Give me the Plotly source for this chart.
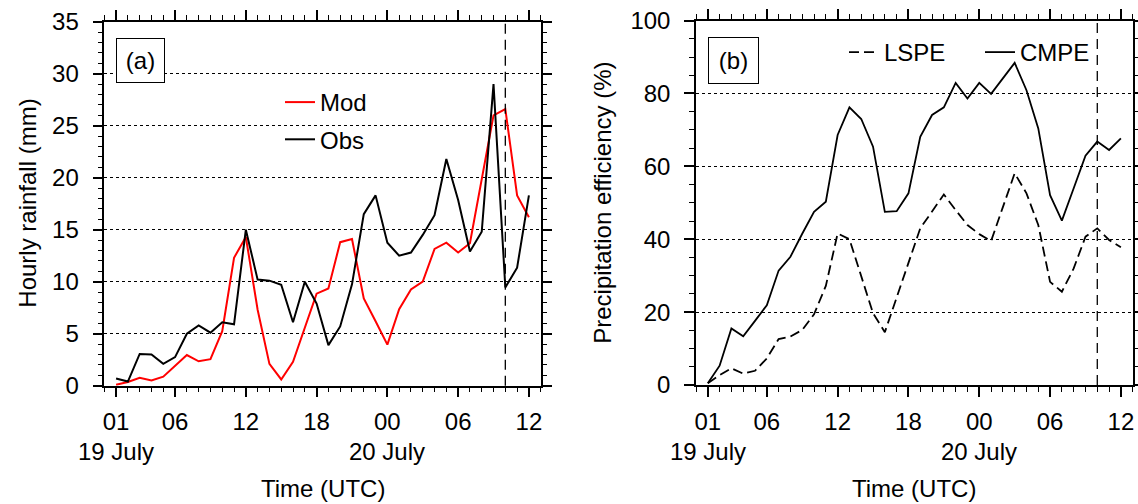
import plotly.graph_objects as go

# ---------------- data ----------------
# hours since 01 UTC 19 July (0..35 -> 01 UTC 19 July .. 12 UTC 20 July)
hours = list(range(36))
tick_hours = [0, 5, 11, 17, 23, 29, 35]
tick_labels = ["01", "06", "12", "18", "00", "06", "12"]
date_hours = [0, 23]
date_labels = ["19 July", "20 July"]
marker_hour = 33  # 10 UTC 20 July

mod_rain = [0.1, 0.35, 0.77, 0.5, 0.87, 1.95, 2.95, 2.35, 2.55, 5.25,
            12.3, 14.3, 7.3, 2.1, 0.6, 2.3, 5.6, 8.85, 9.35, 13.8,
            14.1, 8.4, 6.2, 3.95, 7.35, 9.25, 10.0, 13.15, 13.75, 12.8,
            13.7, 19.9, 26.0, 26.6, 18.3, 16.2]
obs_rain = [0.7, 0.4, 3.05, 3.0, 2.1, 2.75, 5.0, 5.8, 5.1, 6.1,
            5.9, 15.0, 10.2, 10.1, 9.7, 6.1, 10.0, 7.9, 3.9, 5.7,
            9.75, 16.5, 18.3, 13.75, 12.5, 12.8, 14.5, 16.4, 21.8, 17.85,
            12.9, 14.8, 29.0, 9.45, 11.35, 18.3]

lspe = [0.5, 2.7, 4.6, 3.1, 3.9, 7.3, 12.6, 13.3, 15.1, 19.4,
        27.2, 41.6, 40.0, 29.7, 19.7, 14.5, 24.0, 33.5, 43.0, 47.6,
        52.3, 48.0, 43.9, 41.4, 39.5, 48.8, 58.1, 52.6, 43.9, 28.3,
        25.6, 32.0, 40.7, 43.0, 39.8, 37.8]
cmpe = [0.5, 5.3, 15.5, 13.35, 17.6, 21.9, 31.4, 35.2, 41.5, 47.5,
        50.3, 68.6, 76.2, 73.0, 65.4, 47.5, 47.7, 52.6, 68.1, 74.1,
        76.2, 82.9, 78.6, 82.9, 79.9, 84.2, 88.4, 80.9, 70.4, 52.1,
        45.1, 54.0, 62.9, 66.8, 64.5, 67.7]

FONT = "Liberation Sans, Arial, Helvetica, sans-serif"
W, H = 1138, 504

fig = go.Figure()
fig.add_trace(go.Scatter(x=hours, y=mod_rain, mode="lines", name="Mod",
                         line=dict(color="#ff0000", width=2),
                         xaxis="x", yaxis="y", legend="legend", legendgroup="m"))
fig.add_trace(go.Scatter(x=hours, y=obs_rain, mode="lines", name="Obs",
                         line=dict(color="black", width=2),
                         xaxis="x", yaxis="y", legend="legend", legendgroup="o"))
fig.add_trace(go.Scatter(x=hours, y=lspe, mode="lines", name="LSPE",
                         line=dict(color="black", width=1.8, dash="10px,5px"),
                         xaxis="x2", yaxis="y2", legend="legend2"))
fig.add_trace(go.Scatter(x=hours, y=cmpe, mode="lines", name="CMPE",
                         line=dict(color="black", width=1.8),
                         xaxis="x2", yaxis="y2", legend="legend2"))

def xax(domain, anchor):
    return dict(domain=domain, anchor=anchor, range=[-1, 36],
                tickmode="array", tickvals=tick_hours, ticktext=tick_labels,
                ticks="outside", ticklen=10, tickwidth=1.5, tickcolor="black",
                minor=dict(tickmode="linear", tick0=0, dtick=1, ticks="outside",
                           ticklen=5, tickwidth=1, tickcolor="black"),
                showline=True, linecolor="black", linewidth=1.5, mirror="ticks",
                showgrid=False, zeroline=False, ticklabelstandoff=4,
                automargin=False,
                tickfont=dict(family=FONT, size=24, color="black"))

def yax(domain, anchor, rng, dt, mdt):
    return dict(domain=domain, anchor=anchor, range=rng,
                tickmode="linear", tick0=0, dtick=dt,
                ticks="outside", ticklen=10, tickwidth=1.5, tickcolor="black",
                minor=dict(tickmode="linear", tick0=0, dtick=mdt, ticks="outside",
                           ticklen=5, tickwidth=1, tickcolor="black"),
                showline=True, linecolor="black", linewidth=1.5, mirror="ticks",
                showgrid=True, gridcolor="black", gridwidth=1, griddash="3px,3px",
                zeroline=False, ticklabelstandoff=9, automargin=False,
                tickfont=dict(family=FONT, size=24, color="black"))

xa = [104.3 / W, 540.7 / W]
ya = [1 - 385.7 / H, 1 - 21.7 / H]
xb = [696 / W, 1132.7 / W]
yb = [1 - 385 / H, 1 - 20.6 / H]

ann = []
ann.append(dict(text="Time (UTC)", xref="paper", yref="paper",
                x=(xa[0] + xa[1]) / 2, y=1 - 488.3 / H, showarrow=False,
                font=dict(family=FONT, size=24, color="black"),
                xanchor="center", yanchor="middle"))
ann.append(dict(text="Time (UTC)", xref="paper", yref="paper",
                x=(xb[0] + xb[1]) / 2, y=1 - 488.3 / H, showarrow=False,
                font=dict(family=FONT, size=24, color="black"),
                xanchor="center", yanchor="middle"))
ann.append(dict(text="Hourly rainfall (mm)", xref="paper", yref="paper",
                x=28 / W, y=(ya[0] + ya[1]) / 2, textangle=-90, showarrow=False,
                font=dict(family=FONT, size=24, color="black"),
                xanchor="center", yanchor="middle"))
ann.append(dict(text="Precipitation efficiency (%)", xref="paper", yref="paper",
                x=603 / W, y=(yb[0] + yb[1]) / 2, textangle=-90, showarrow=False,
                font=dict(family=FONT, size=24, color="black"),
                xanchor="center", yanchor="middle"))
for xr in ("x", "x2"):
    for h, d in zip(date_hours, date_labels):
        ann.append(dict(text=d, xref=xr, yref="paper", x=h, y=1 - 451.7 / H,
                        showarrow=False, xanchor="center", yanchor="middle",
                        font=dict(family=FONT, size=24, color="black")))
ann.append(dict(text="(a)", xref="paper", yref="paper", x=140.7 / W, y=1 - 60.8 / H,
                showarrow=False, xanchor="center", yanchor="middle",
                width=45, height=41, borderpad=1, bordercolor="black", borderwidth=1,
                bgcolor="white", font=dict(family=FONT, size=24, color="black")))
ann.append(dict(text="(b)", xref="paper", yref="paper", x=733.7 / W, y=1 - 60.8 / H,
                showarrow=False, xanchor="center", yanchor="middle",
                width=47, height=43, borderpad=1, bordercolor="black", borderwidth=1,
                bgcolor="white", font=dict(family=FONT, size=24, color="black")))

shapes = [
    dict(type="line", xref="x", yref="paper", x0=marker_hour, x1=marker_hour,
         y0=ya[0], y1=ya[1], line=dict(color="black", width=1.3, dash="10px,6px")),
    dict(type="line", xref="x2", yref="paper", x0=marker_hour, x1=marker_hour,
         y0=yb[0], y1=yb[1], line=dict(color="black", width=1.3, dash="10px,6px")),
]

fig.update_layout(
    width=W, height=H, margin=dict(l=0, r=0, t=0, b=0, autoexpand=False),
    paper_bgcolor="white", plot_bgcolor="white",
    xaxis=xax(xa, "y"), yaxis=yax(ya, "x", [0, 35], 5, 1),
    xaxis2=xax(xb, "y2"), yaxis2=yax(yb, "x2", [0, 100], 20, 5),
    legend=dict(x=280 / W, y=1 - 80 / H, xanchor="left", yanchor="top",
                bgcolor="rgba(0,0,0,0)", borderwidth=0, traceorder="grouped",
                tracegroupgap=3, font=dict(family=FONT, size=24, color="black")),
    legend2=dict(x=844 / W, y=1 - 30 / H, xanchor="left", yanchor="top",
                 orientation="h", bgcolor="rgba(0,0,0,0)", borderwidth=0,
                 entrywidth=91, font=dict(family=FONT, size=24, color="black")),
    annotations=ann, shapes=shapes, showlegend=True,
)

fig.write_html("out.html")
